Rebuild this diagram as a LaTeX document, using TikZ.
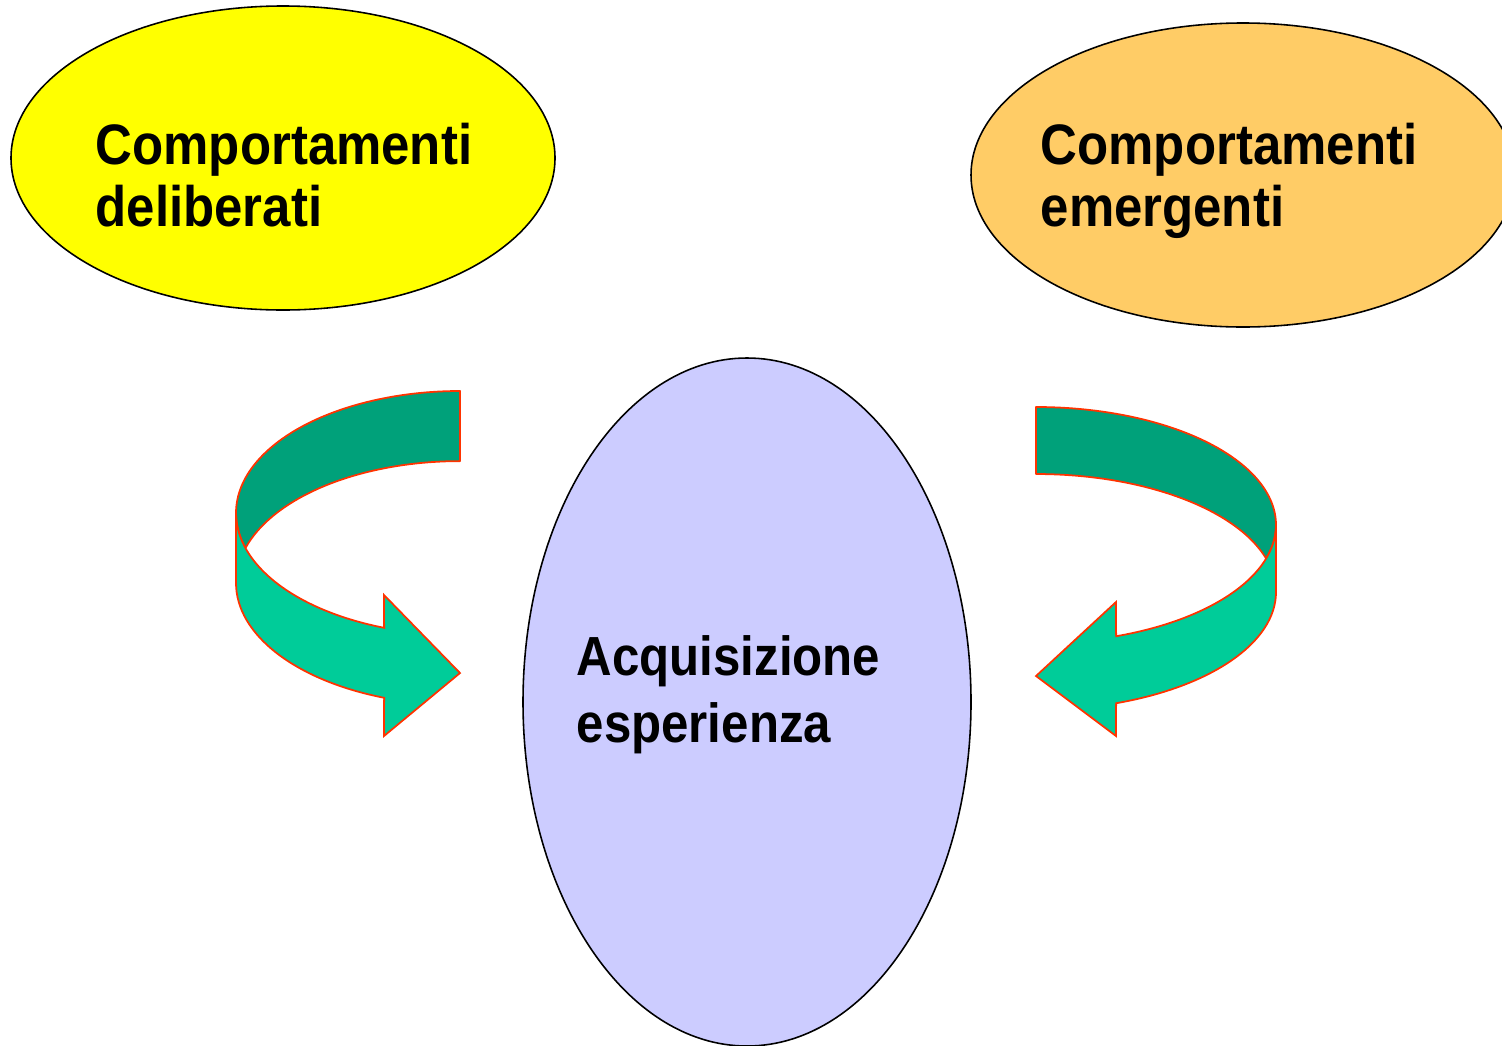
\documentclass[tikz,border=0pt]{standalone}
\usepackage{graphicx}
\usepackage{fontspec}
\setmainfont{Liberation Sans}
\usetikzlibrary{shapes.geometric}
\definecolor{ovyellow}{RGB}{255,255,0}
\definecolor{ovorange}{RGB}{255,204,102}
\definecolor{ovlav}{RGB}{204,204,255}
\definecolor{ribdark}{RGB}{0,161,122}
\definecolor{riblight}{RGB}{0,204,153}
\definecolor{ribline}{RGB}{255,51,0}
% tall two-line label, anchored on the baseline of its last line
\newcommand{\talllabel}[2]{\scalebox{1}[1.12]{\begin{tabular}[b]{@{}l@{}}#1\\#2\end{tabular}}}
\tikzset{
  oval/.style={ellipse, draw=black, line width=0.45pt, inner sep=0pt},
  toplbl/.style={font=\bfseries\fontsize{14.5}{15.7}\selectfont, inner sep=0pt, anchor=base west},
  midlbl/.style={font=\bfseries\fontsize{14}{17.0}\selectfont, inner sep=0pt, anchor=base west},
  ribback/.style={fill=ribdark, draw=ribline, line width=0.5pt, line join=round},
  ribfront/.style={fill=riblight, draw=ribline, line width=0.5pt, line join=miter},
}
\begin{document}
\begin{tikzpicture}
\useasboundingbox (0,0) rectangle (15.02,-10.45);
% ovals
\node[oval, fill=ovyellow, minimum width=5.44cm, minimum height=3.04cm] (delib) at (2.83,-1.58) {};
\node[oval, fill=ovorange, minimum width=5.44cm, minimum height=3.04cm] (emerg) at (12.43,-1.75) {};
\node[oval, fill=ovlav, minimum width=4.48cm, minimum height=6.88cm] (acq) at (7.47,-7.02) {};
% labels (anchor = baseline of last line)
\node[toplbl] (tdelib) at (0.95,-2.26) {\talllabel{Comportamenti}{deliberati}};
\node[toplbl] (temerg) at (10.40,-2.26) {\talllabel{Comportamenti}{emergenti}};
\node[midlbl] (tacq) at (5.76,-7.42) {\talllabel{Acquisizione}{esperienza}};
% left curved arrow
\coordinate (LT) at (4.60,-5.13);
\coordinate (LB) at (4.60,-5.83);
\draw[ribback] ([shift={(90:2.24 and 1.22)}]LT)
  arc[start angle=90, end angle=196.7, x radius=2.24cm, y radius=1.22cm]
  arc[start angle=163.3, end angle=90, x radius=2.24cm, y radius=1.22cm] -- cycle;
\draw[ribfront] ([shift={(180:2.24 and 1.22)}]LT)
  arc[start angle=180, end angle=250.2, x radius=2.24cm, y radius=1.22cm]
  -- (3.84,-5.95) -- (4.60,-6.73) -- (3.84,-7.36)
  -- ([shift={(250.2:2.24 and 1.22)}]LB)
  arc[start angle=250.2, end angle=180, x radius=2.24cm, y radius=1.22cm] -- cycle;
% right curved arrow
\coordinate (RT) at (10.36,-5.25);
\coordinate (RB) at (10.36,-5.92);
\draw[ribback] ([shift={(90:2.40 and 1.18)}]RT)
  arc[start angle=90, end angle=-16.5, x radius=2.40cm, y radius=1.18cm]
  arc[start angle=16.5, end angle=90, x radius=2.40cm, y radius=1.18cm] -- cycle;
\draw[ribfront] ([shift={(0:2.40 and 1.18)}]RT)
  arc[start angle=0, end angle=-70.5, x radius=2.40cm, y radius=1.18cm]
  -- (11.16,-6.02) -- (10.36,-6.76) -- (11.16,-7.36)
  -- ([shift={(-70.5:2.40 and 1.18)}]RB)
  arc[start angle=-70.5, end angle=0, x radius=2.40cm, y radius=1.18cm] -- cycle;
\end{tikzpicture}
\end{document}
